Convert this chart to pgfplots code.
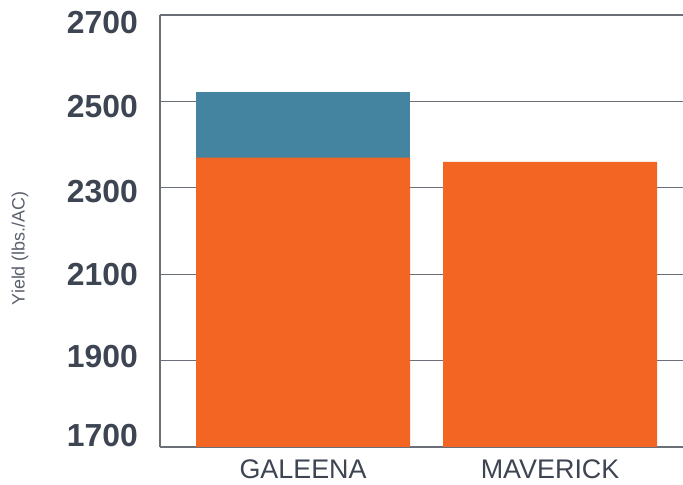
\documentclass[border=0pt]{standalone}
\usepackage{fontspec}
\setmainfont{Liberation Sans}
\usepackage{pgfplots}
\pgfplotsset{compat=1.18}
\definecolor{barorange}{HTML}{F26522}
\definecolor{barblue}{HTML}{4584A0}
\definecolor{gridgray}{HTML}{6B6F78}
\definecolor{labeltext}{HTML}{3D4452}
\newcommand{\yl}[2]{\raisebox{#1}[0pt][0pt]{#2}}

\begin{document}
\begin{tikzpicture}
\begin{axis}[
    scale only axis,
    width=523bp,
    height=432bp,
    ybar stacked,
    bar width=214bp,
    xmin=-0.579, xmax=1.538,
    ymin=1700, ymax=2700,
    ytick={1700,1900,2100,2300,2500,2700},
    yticklabels={\yl{0.5bp}{1700},\yl{-6.5bp}{1900},\yl{-11.5bp}{2100},\yl{-14.5bp}{2300},\yl{-16.5bp}{2500},\yl{-18.5bp}{2700}},
    xtick=data,
    xticklabels={GALEENA,MAVERICK},
    major tick length=0pt,
    axis x line*=bottom,
    axis y line*=left,
    axis line style={gridgray, line width=1.2bp, -},
    ymajorgrids=true,
    grid style={gridgray, line width=1.2bp},
    yticklabel style={font=\fontsize{32}{32}\selectfont\bfseries, text=labeltext, anchor=east, inner sep=0pt, xshift=-22bp},
    xticklabel style={font=\fontsize{27}{27}\selectfont, text=labeltext, anchor=north, inner sep=0pt, yshift=-13bp},
    ylabel={Yield (lbs./AC)},
    every axis y label/.style={at={(axis description cs:0,0.46)}, xshift=-140bp, rotate=90, anchor=center, font=\fontsize{18}{18}\selectfont, text=labeltext!85},
    every axis plot/.append style={draw=none},
]
\addplot[fill=barorange] coordinates {(0,2370) (1,2360)};
\addplot[fill=barblue] coordinates {(0,151) (1,0)};
\end{axis}
\pgfresetboundingbox
\path (current axis.south west) ++(-160bp,-38bp) rectangle ++(683bp,485bp);
\end{tikzpicture}
\end{document}
